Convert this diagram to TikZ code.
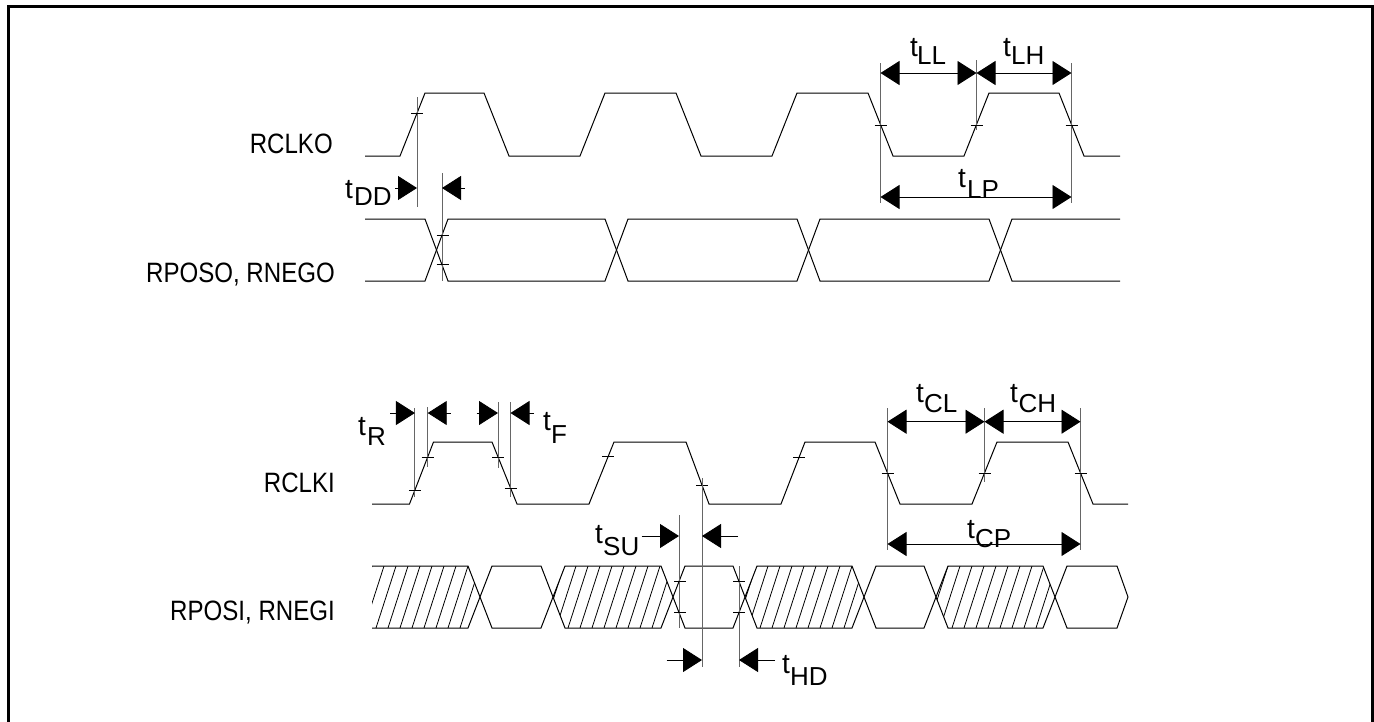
\documentclass[tikz,border=0pt]{standalone}
\usepackage{fontspec}
\usepackage{graphicx}
\setmainfont{Liberation Sans}
\usetikzlibrary{arrows.meta}
\tikzset{
 wave/.style={line width=1pt, line join=miter},
 refline/.style={line width=0.9pt, black!60},
 tickmark/.style={line width=0.8pt},
 hatchline/.style={line width=0.8pt},
 dimone/.style={line width=0.9pt, -{Triangle[length=19pt,width=24pt]}},
 dimboth/.style={line width=0.9pt, {Triangle[length=19pt,width=24pt]}-{Triangle[length=19pt,width=24pt]}},
 sig/.style={inner sep=0pt, anchor=base east, font=\fontsize{28}{30}\selectfont},
 tlab/.style={inner sep=0pt, anchor=base west, font=\fontsize{28}{30}\selectfont},
 sublab/.style={inner sep=0pt, anchor=base west, font=\fontsize{26}{28}\selectfont},
}
\newcommand\condtxt[1]{\scalebox{0.86}[1]{#1}}
\newcommand\tk[2]{\draw[tickmark] (#1-6,#2) -- (#1+6,#2);}
\begin{document}
\begin{tikzpicture}[x=1pt,y=-1pt]
\useasboundingbox (0,0) rectangle (1374,721);
\draw[line width=2.7pt] (8.7,6.7) rectangle (1372.7,725);

% ---------- signal names ----------
\node[sig] (rclko) at (333,153) {\condtxt{RCLKO}};
\node[sig] (rposo) at (335,282) {\condtxt{RPOSO, RNEGO}};
\node[sig] (rclki) at (335,492) {\condtxt{RCLKI}};
\node[sig] (rposi) at (335,620) {\condtxt{RPOSI, RNEGI}};

% ---------- RCLKO ----------
\draw[wave] (365,156) -- (400,156) -- (425,93) -- (484,93) -- (509,156) -- (580,156) -- (605,93) -- (676,93) -- (701,156) -- (772,156) -- (797,93) -- (868,93) -- (893,156) -- (964,156) -- (989,93) -- (1059,93) -- (1084,156) -- (1120,156);

% ---------- RPOSO ----------
\draw[wave] (365,219) -- (425,219) -- (448,281) -- (605,281) -- (628,219) -- (797,219) -- (820,281) -- (989,281) -- (1012,219) -- (1120,219);
\draw[wave] (365,281) -- (425,281) -- (448,219) -- (605,219) -- (628,281) -- (797,281) -- (820,219) -- (989,219) -- (1012,281) -- (1120,281);

% ---------- tDD ----------
\coordinate (dd1top) at (417,97); \coordinate (dd1bot) at (417,207);
\coordinate (dd2top) at (442,173); \coordinate (dd2bot) at (442,281);
\draw[refline] (dd1top) -- (dd1bot);
\draw[refline] (dd2top) -- (dd2bot);
\tk{417}{113}
\tk{442.5}{235.2}
\tk{442.5}{264.8}
\coordinate (dd1a) at (395,188); \coordinate (dd1b) at (417,188);
\coordinate (dd2a) at (465,188); \coordinate (dd2b) at (442,188);
\draw[dimone] (dd1a) -- (dd1b);
\draw[dimone] (dd2a) -- (dd2b);
\node[tlab] (tdd) at (345,198) {t};
\node[sublab] (tddsub) at (354,205) {DD};

% ---------- tLL, tLH, tLP ----------
\draw[refline] (880.5,63) -- (880.5,203);
\draw[refline] (976.5,60) -- (976.5,130);
\draw[refline] (1071.5,63) -- (1071.5,203);
\tk{880.5}{125}
\tk{976.5}{125}
\tk{1071.5}{125}
\coordinate (ll1) at (880.5,73); \coordinate (ll2) at (976.5,73); \coordinate (ll3) at (1071.5,73);
\coordinate (lp1) at (880.5,197); \coordinate (lp2) at (1071.5,197);
\draw[dimboth] (ll1) -- (ll2);
\draw[dimboth] (ll2) -- (ll3);
\draw[dimboth] (lp1) -- (lp2);
\node[tlab] (tll) at (910,56) {t};
\node[sublab] (tllsub) at (917,64) {LL};
\node[tlab] (tlh) at (1003,56) {t};
\node[sublab] (tlhsub) at (1011,64) {LH};
\node[tlab] (tlp) at (958,187) {t};
\node[sublab] (tlpsub) at (967,198) {LP};

% ---------- RCLKI ----------
\draw[wave] (372,504) -- (409.5,504) -- (433.5,442) -- (492,442) -- (517,504) -- (589,504) -- (614,442) -- (686,442) -- (709,504) -- (781,504) -- (805,442) -- (875,442) -- (900,504) -- (972,504) -- (997,442) -- (1068,442) -- (1093,504) -- (1128,504);

% tR / tF
\draw[refline] (414.9,408) -- (414.9,497);
\draw[refline] (427.7,407) -- (427.7,467);
\draw[refline] (498,402) -- (498,468);
\draw[refline] (510.5,402) -- (510.5,497);
\tk{414.9}{490}
\tk{427.7}{457}
\tk{498}{457}
\tk{510.5}{488}
\tk{608.4}{456}
\tk{702}{485.5}
\tk{799.2}{457}
\coordinate (r1a) at (390,413); \coordinate (r1b) at (414.9,413);
\coordinate (r2a) at (450.7,413); \coordinate (r2b) at (427.7,413);
\coordinate (f1a) at (476.7,413); \coordinate (f1b) at (498,413);
\coordinate (f2a) at (534,413); \coordinate (f2b) at (510.5,413);
\draw[dimone] (r1a) -- (r1b);
\draw[dimone] (r2a) -- (r2b);
\draw[dimone] (f1a) -- (f1b);
\draw[dimone] (f2a) -- (f2b);
\node[tlab] (tr) at (358,435) {t};
\node[sublab] (trsub) at (367,445) {R};
\node[tlab] (tf) at (543,430) {t};
\node[sublab] (tfsub) at (551,443) {F};

% tCL, tCH, tCP
\draw[refline] (887.5,408) -- (887.5,550);
\draw[refline] (984.5,408) -- (984.5,482);
\draw[refline] (1080.5,408) -- (1080.5,550);
\tk{887.5}{473}
\tk{984.5}{473}
\tk{1080.5}{473}
\coordinate (cl1) at (887.5,421.7); \coordinate (cl2) at (984.5,421.7); \coordinate (cl3) at (1080.5,421.7);
\coordinate (cp1) at (887.5,544); \coordinate (cp2) at (1080.5,544);
\draw[dimboth] (cl1) -- (cl2);
\draw[dimboth] (cl2) -- (cl3);
\draw[dimboth] (cp1) -- (cp2);
\node[tlab] (tcl) at (916,402) {t};
\node[sublab] (tclsub) at (924,412) {CL};
\node[tlab] (tch) at (1010,402) {t};
\node[sublab] (tchsub) at (1018.5,412) {CH};
\node[tlab] (tcp) at (967,538) {t};
\node[sublab] (tcpsub) at (975,547) {CP};

% ---------- RPOSI hatch ----------
\begin{scope}
\clip (372,566) -- (468,566) -- (480,597) -- (468,628) -- (372,628) -- cycle
 (553,597) -- (565,566) -- (661,566) -- (673,597) -- (661,628) -- (565,628) -- cycle
 (745,597) -- (757,566) -- (852,566) -- (864,597) -- (852,628) -- (757,628) -- cycle
 (936,597) -- (948,566) -- (1043,566) -- (1055,597) -- (1043,628) -- (948,628) -- cycle;
\foreach \x in {340,352,...,1060} \draw[hatchline] (\x,628) -- (\x+20,566);
\end{scope}

% ---------- RPOSI ----------
\draw[wave] (372,566) -- (468,566) -- (492,628) -- (541,628) -- (565,566) -- (661,566) -- (685,628) -- (733,628) -- (757,566) -- (852,566) -- (876,628) -- (924,628) -- (948,566) -- (1043,566) -- (1067,628) -- (1117,628) -- (1128,597);
\draw[wave] (372,628) -- (468,628) -- (492,566) -- (541,566) -- (565,628) -- (661,628) -- (685,566) -- (733,566) -- (757,628) -- (852,628) -- (876,566) -- (924,566) -- (948,628) -- (1043,628) -- (1067,566) -- (1117,566) -- (1128,597);

% tSU / tHD
\draw[refline] (702,478) -- (702,667);
\draw[refline] (679,515) -- (679,628);
\draw[refline] (739,566) -- (739,667);
\tk{680}{581.5}
\tk{680}{612.5}
\tk{739}{581.5}
\tk{739}{612.5}
\coordinate (su1a) at (641.7,536); \coordinate (su1b) at (679,536);
\coordinate (su2a) at (738,536); \coordinate (su2b) at (702,536);
\coordinate (hd1a) at (666.7,660); \coordinate (hd1b) at (702,660);
\coordinate (hd2a) at (775,660); \coordinate (hd2b) at (739,660);
\draw[dimone] (su1a) -- (su1b);
\draw[dimone] (su2a) -- (su2b);
\draw[dimone] (hd1a) -- (hd1b);
\draw[dimone] (hd2a) -- (hd2b);
\node[tlab] (tsu) at (595,543) {t};
\node[sublab] (tsusub) at (603,555) {SU};
\node[tlab] (thd) at (782,673) {t};
\node[sublab] (thdsub) at (790,685) {HD};
\end{tikzpicture}
\end{document}
